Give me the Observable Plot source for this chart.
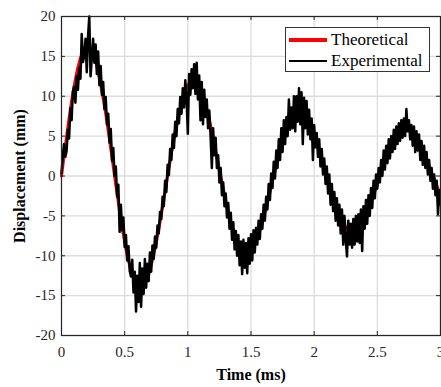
<!DOCTYPE html>
<html><head><meta charset="utf-8">
<script src="https://cdn.jsdelivr.net/npm/d3@7"></script>
<script src="https://cdn.jsdelivr.net/npm/@observablehq/plot@0.6"></script>
<style>
body{margin:0;background:#fff;}
#wrap{position:relative;width:441px;height:387px;}
#wrap svg, #wrap svg text{font-family:"Liberation Serif","Times New Roman",serif !important;}
.legend{position:absolute;left:285px;top:27px;width:145px;height:45px;border:1px solid #333;background:#fff;box-sizing:border-box;font-family:"Liberation Serif","Times New Roman",serif;font-size:17px;color:#000;}
.legend .row{position:absolute;left:3px;height:21px;display:flex;align-items:center;white-space:nowrap;}
.legend .sw{width:38px;margin-right:4px;}
</style></head>
<body><div id="wrap"></div>
<script>
// Theoretical displacement (mm), sampled every 0.025 ms from 0 to 3 ms
const theoStep = 0.025;
const theoretical = [
0,3.1,6.1,8.9,11.3,13.3,14.8,15.7,16.2,16.0,15.3,14.1,12.3,10.2,7.8,5.1,2.3,-0.6,-3.3,-6.0,
-8.3,-10.3,-11.9,-13.1,-13.7,-14.0,-13.7,-13.0,-11.8,-10.2,-8.4,-6.2,-3.9,-1.5,1.0,3.3,5.5,7.4,9.1,10.4,
11.4,11.9,12.0,11.6,10.9,9.8,8.4,6.7,4.9,2.8,0.8,-1.2,-3.1,-4.9,-6.4,-7.7,-8.7,-9.3,-9.7,-9.8,
-9.5,-8.8,-7.8,-6.6,-5.2,-3.7,-2.0,-0.3,1.3,2.9,4.4,5.6,6.6,7.4,7.9,8.2,8.1,7.8,7.2,6.4,
5.3,4.1,2.8,1.4,0,-1.4,-2.7,-3.9,-4.9,-5.7,-6.4,-6.8,-7.0,-6.9,-6.6,-6.0,-5.2,-4.4,-3.3,-2.2,
-1.0,0.2,1.4,2.5,3.5,4.4,5.1,5.6,5.9,6.0,5.9,5.6,5.1,4.4,3.6,2.7,1.7,0.6,-0.4,-1.4,
-2.4
];
// Experimental displacement (mm), sampled every 0.01 ms from 0 to 3 ms
const expStep = 0.01;
const experimental = [
0.3,2.5,4.0,2.4,3.1,5.8,4.7,8.5,7.0,10.6,11.2,9.2,12.5,10.8,13.6,12.2,17.8,14.3,15.1,17.2,
13.0,17.5,20.0,12.5,14.8,17.2,14.2,16.5,12.8,15.6,11.4,13.8,10.2,11.8,8.4,9.9,6.5,7.8,4.2,5.9,
1.9,3.5,0.0,1.2,-2.6,-1.1,-7.0,-3.6,-6.8,-5.2,-8.9,-7.4,-10.6,-8.8,-11.9,-12.6,-10.5,-14.6,-12.0,-17.0,
-12.5,-15.8,-10.9,-16.4,-11.6,-14.8,-10.4,-14.0,-11.0,-13.2,-9.6,-12.0,-8.7,-10.4,-7.6,-9.0,-6.2,-7.2,-4.5,-5.4,
-2.6,-3.8,-0.6,-2.0,1.4,0.1,3.4,2.0,5.2,3.5,6.8,5.0,8.4,6.6,9.9,7.8,11.0,8.6,12.0,9.8,
5.3,12.8,10.2,13.4,11.0,14.0,10.3,14.2,9.6,12.6,7.0,11.8,6.5,10.8,7.4,9.6,6.0,8.2,5.0,1.0,
6.0,2.6,4.8,1.0,2.6,-0.8,1.0,-2.4,-0.8,-3.8,-2.2,-5.2,-3.4,-6.6,-4.6,-8.0,-5.8,-9.2,-6.9,-10.0,
-7.4,-11.2,-8.2,-12.3,-8.0,-11.5,-8.4,-12.2,-7.8,-11.0,-7.3,-10.6,-6.8,-9.6,-6.5,-8.6,-5.6,-7.9,-4.8,-6.6,
-3.6,-5.6,-2.6,-4.2,-1.0,-3.0,0.3,-1.5,1.8,-0.3,3.2,1.0,4.6,2.0,6.0,3.0,7.0,4.0,7.4,5.0,
9.6,5.8,8.6,6.0,10.0,5.6,10.0,6.8,11.0,6.5,10.5,4.0,9.8,6.0,9.4,5.2,8.3,4.6,7.2,2.0,
6.4,3.6,5.4,2.4,4.6,1.2,3.4,0.2,2.2,-1.0,1.2,-2.2,0.2,-3.6,-1.0,-4.4,-2.0,-5.6,-2.8,-6.2,
-3.6,-7.2,-4.2,-8.6,-5.0,-8.0,-10.1,-5.6,-8.6,-6.0,-9.0,-5.4,-8.6,-5.0,-8.2,-4.8,-8.4,-4.2,-9.4,-3.8,
-6.6,-3.0,-6.0,-2.4,-5.0,-1.5,-4.0,-0.6,-2.8,0.2,-1.6,1.0,-0.8,2.0,0.0,3.2,0.8,3.8,1.6,4.6,
2.2,5.0,3.0,5.8,3.4,6.2,4.0,6.6,4.4,7.0,4.8,7.2,5.0,8.4,5.6,7.0,4.6,6.4,3.8,6.2,
3.0,5.6,3.2,5.2,2.0,4.4,1.4,3.8,1.0,3.0,0.2,2.0,-0.6,1.0,-1.6,0.2,-2.4,-0.6,-4.8,-1.8,
-3.6
];
const xTicks = [0, 0.5, 1, 1.5, 2, 2.5, 3];
const yTicks = [-20, -15, -10, -5, 0, 5, 10, 15, 20];
const xLabel = "Time (ms)";
const yLabel = "Displacement (mm)";
const seriesNames = ["Theoretical", "Experimental"];
const seriesColors = ["#ff0000", "#000000"];

const theoData = theoretical.map((v, i) => ({t: i * theoStep, v}));
const expData = experimental.map((v, i) => ({t: i * expStep, v}));

const W = 441, H = 387, mL = 61, mR = 1, mT = 16, mB = 52;
const fh = H - mT - mB, fw = W - mL - mR;
const grid = "#dcdcdc";
const fmt = d => String(d);

const chart = Plot.plot({
  width: W, height: H,
  marginLeft: mL, marginRight: mR, marginTop: mT, marginBottom: mB,
  style: {fontSize: "15px", fontFamily: "'Liberation Serif', 'Times New Roman', serif", color: "#262626", background: "#fff", overflow: "visible"},
  x: {domain: [0, 3]},
  y: {domain: [-20, 20]},
  marks: [
    Plot.ruleX(xTicks, {x: d => d, stroke: grid, strokeWidth: 1.3}),
    Plot.ruleY(yTicks, {y: d => d, stroke: grid, strokeWidth: 1.3}),
    Plot.line(theoData, {x: "t", y: "v", stroke: seriesColors[0], strokeWidth: 3}),
    Plot.line(expData, {x: "t", y: "v", stroke: seriesColors[1], strokeWidth: 2.5}),
    // inward ticks
    Plot.ruleX(xTicks, {x: d => d, stroke: "#262626", insetTop: fh - 4}),
    Plot.ruleX(xTicks, {x: d => d, stroke: "#262626", insetBottom: fh - 4}),
    Plot.ruleY(yTicks, {y: d => d, stroke: "#262626", insetRight: fw - 4}),
    Plot.ruleY(yTicks, {y: d => d, stroke: "#262626", insetLeft: fw - 4}),
    Plot.frame({stroke: "#262626", strokeWidth: 1.2}),
    Plot.axisX({ticks: xTicks, tickSize: 0, tickPadding: 11, tickFormat: fmt, label: xLabel, labelArrow: "none", labelAnchor: "center", labelOffset: 44, fill: "#262626"}),
    Plot.axisY({ticks: yTicks, tickSize: 0, tickPadding: 6, tickFormat: fmt, label: yLabel, labelArrow: "none", labelAnchor: "center", labelOffset: 48, fill: "#262626"})
  ]
});
const wrap = document.getElementById("wrap");
wrap.appendChild(chart);
d3.select(chart).selectAll('[aria-label$="axis label"] text').each(function () {
  const s = d3.select(this);
  s.text(s.text().replace(/\s*[→↑←↓]\s*/g, "").trim());
}).style("font-weight", "bold").style("fill", "#000").style("font-size", "16px");

const leg = document.createElement("div");
leg.className = "legend";
seriesNames.forEach((name, i) => {
  const row = document.createElement("div");
  row.className = "row";
  row.style.top = (i === 0 ? 1 : 22) + "px";
  const sw = document.createElement("div");
  sw.className = "sw";
  sw.style.borderTop = (i === 0 ? 4 : 2) + "px solid " + seriesColors[i];
  const tx = document.createElement("span");
  tx.textContent = name;
  row.appendChild(sw); row.appendChild(tx);
  leg.appendChild(row);
});
wrap.appendChild(leg);
</script>
</body></html>
